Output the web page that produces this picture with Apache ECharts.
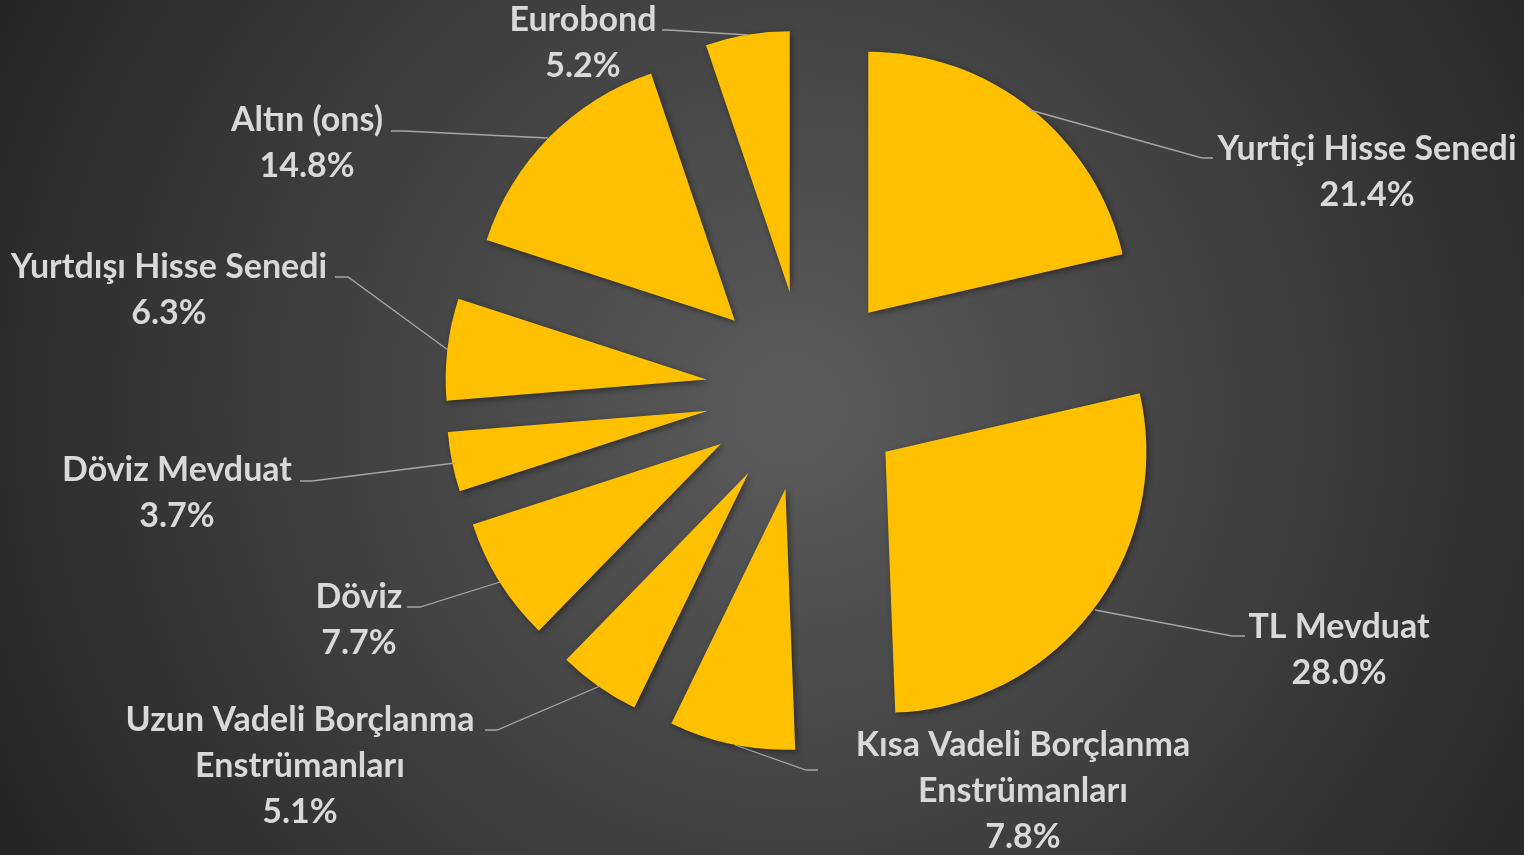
<!DOCTYPE html>
<html>
<head>
<meta charset="utf-8">
<script src="https://cdn.jsdelivr.net/npm/echarts@6/dist/echarts.min.js"></script>
<style>
  html, body { margin: 0; padding: 0; }
  #chart { width: 1524px; height: 855px; }
</style>
</head>
<body>
<div id="chart"></div>
<script>
// dilimler (saat yönünde, tepeden başlayarak)
const names = [
  'Yurtiçi Hisse Senedi',
  'TL Mevduat',
  'Kısa Vadeli Borçlanma\nEnstrümanları',
  'Uzun Vadeli Borçlanma\nEnstrümanları',
  'Döviz',
  'Döviz Mevduat',
  'Yurtdışı Hisse Senedi',
  'Altın (ons)',
  'Eurobond'
];
const values = [21.4, 28.0, 7.8, 5.1, 7.7, 3.7, 6.3, 14.8, 5.2];

// etiket merkezleri ve kılavuz çizgileri
const labelPos = [
  [1367, 172], [1339, 650], [1023, 791], [300, 766], [359, 620],
  [177, 493], [169, 290], [307, 143], [583, 43]
];
const linePts = [
  [[1030, 110], [1202, 158], [1213, 158]],
  [[1095, 610], [1232, 636], [1245, 636]],
  [[735, 745], [806, 770], [818, 770]],
  [[600, 686], [497, 730], [485, 730]],
  [[500, 582], [420, 607], [407, 607]],
  [[455, 463], [312, 481], [300, 481]],
  [[448, 350], [348, 277], [335, 277]],
  [[548, 138], [404, 131], [391, 131]],
  [[748, 35], [668, 30], [662, 30]]
];

var graphics = [];
linePts.forEach(function (pts) {
  graphics.push({
    type: 'polyline',
    z: 10,
    shape: { points: pts },
    style: { stroke: '#a6a6a6', lineWidth: 1.3, fill: null }
  });
});
names.forEach(function (n, i) {
  graphics.push({
    type: 'text',
    z: 11,
    x: labelPos[i][0],
    y: labelPos[i][1],
    style: {
      text: n + '\n' + values[i].toFixed(1) + '%',
      fill: '#d9d9d9',
      font: 'bold 34px Lato',
      lineHeight: 46,
      align: 'center',
      verticalAlign: 'middle'
    }
  });
});

var chart = echarts.init(document.getElementById('chart'));
chart.setOption({
  backgroundColor: {
    type: 'radial', x: 790, y: 410, r: 880, global: true,
    colorStops: [
      { offset: 0, color: '#5c5c5c' },
      { offset: 1, color: '#262626' }
    ]
  },
  animation: false,
  graphic: graphics,
  series: [{
    type: 'pie',
    center: [806, 391],
    radius: 261,
    startAngle: 90,
    clockwise: true,
    selectedMode: 'multiple',
    selectedOffset: 100,
    itemStyle: {
      color: '#FFC000',
      shadowBlur: 6,
      shadowColor: 'rgba(0,0,0,0.45)',
      shadowOffsetX: 2,
      shadowOffsetY: 2
    },
    emphasis: { disabled: true },
    label: { show: false },
    labelLine: { show: false },
    data: names.map((n, i) => ({ name: n, value: values[i], selected: true }))
  }]
});
</script>
</body>
</html>
